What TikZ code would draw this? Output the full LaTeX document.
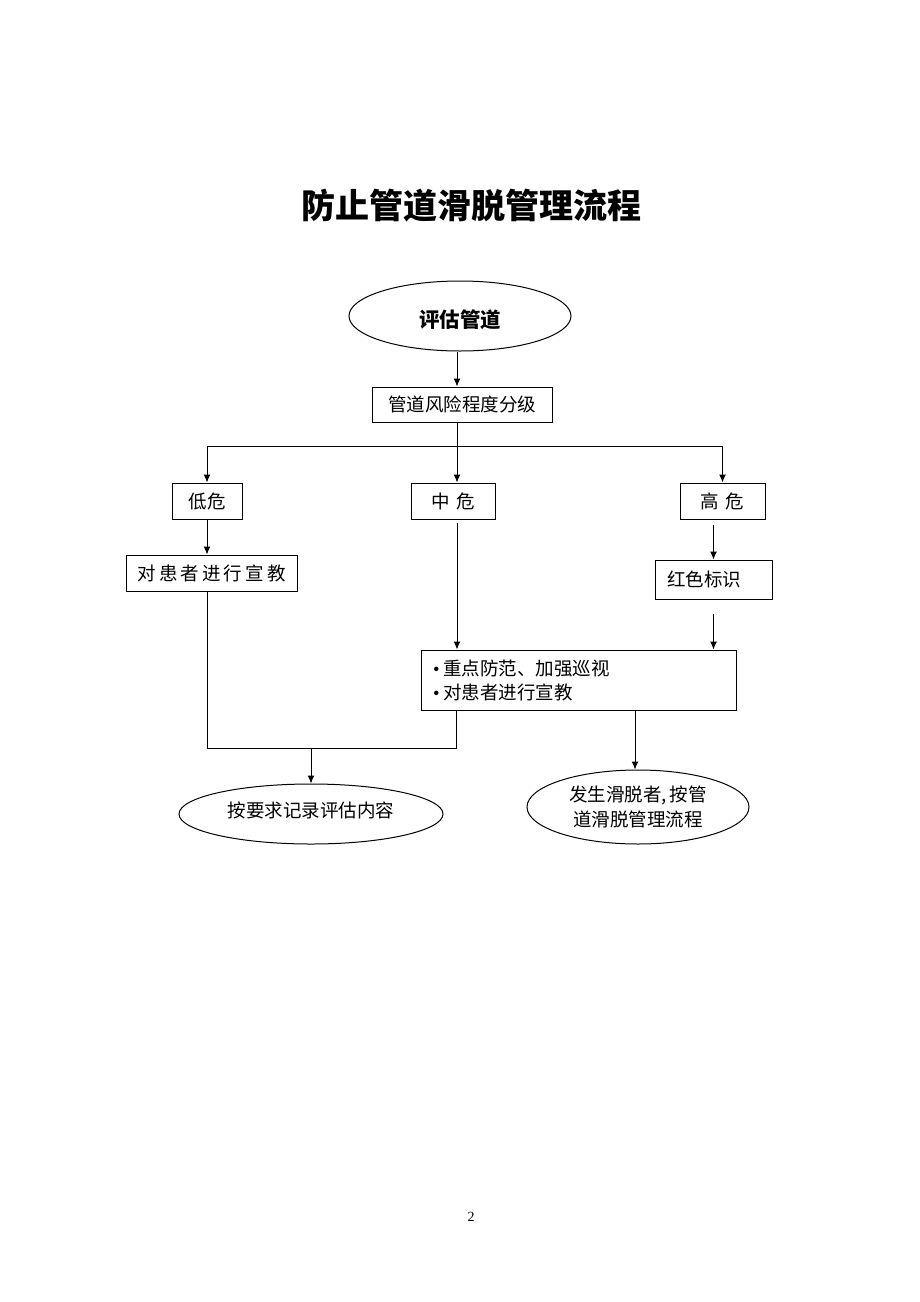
\documentclass[tikz,border=0pt]{standalone}
\usepackage{fontspec}
\setmainfont{Liberation Serif}
\newfontfamily\cjk{Noto Sans CJK SC}
\newcommand{\bul}{{\rmfamily\textbullet}\hspace{4pt}}
\usetikzlibrary{shapes.geometric , arrows.meta}

\begin{document}
\begin{tikzpicture}[x = 1pt , y = -1pt , line width = 1pt ,
    font = \cjk\fontsize{18.5}{24}\selectfont ,
    box/.style = {draw , rectangle , inner sep = 0pt , minimum height = 36pt} ,
    oval/.style = {draw , ellipse , inner sep = 0pt} ,
    arrow/.style = {-{Latex[length = 8pt , width = 7pt]}}]
    \useasboundingbox (0,0) rectangle (920,1302);
    \node[font = \cjk\bfseries\fontsize{34}{40}\selectfont] (title) at (471,206) {防止管道滑脱管理流程};
    \node[oval , minimum width = 222pt , minimum height = 70pt] (assess) at (460,316) {};
    \node[font = \cjk\bfseries\fontsize{20.5}{24}\selectfont] (assesstext) at (460,320) {评估管道};
    \node[box , minimum width = 180pt , minimum height = 35pt] (grade) at (462,404.5) {管道风险程度分级};
    \node[box , minimum width = 70pt] (low) at (207,501) {低危}; % 低危
    \node[box , minimum width = 84pt] (mid) at (453,501) {中\hspace{7pt}危}; % 中危
    \node[box , minimum width = 85pt] (high) at (722.5,501) {高\hspace{7pt}危}; % 高危
    \node[box , minimum width = 171pt] (edu) at (211.5,573) {对\,患\,者\,进\,行\,宣\,教};
    \node[box , minimum width = 117pt , minimum height = 39pt , text width = 93pt , align = left] (red) at (713.5,579.5) {红色标识};
    \node[box , minimum width = 315pt , minimum height = 60pt , text width = 291pt , align = left] (care) at (578.5,680) {\bul 重点防范、加强巡视\\\bul 对患者进行宣教};
    \node[oval , minimum width = 264pt , minimum height = 60pt] (record) at (311,814) {};
    \node (recordtext) at (311,810) {按要求记录评估内容};
    \node[oval , minimum width = 222pt , minimum height = 74pt , align = center , font = \cjk\fontsize{18.5}{25}\selectfont] (slip) at (638,807) {发生滑脱者,\,按管\\道滑脱管理流程};
    \node[font = \fontsize{14}{16}\selectfont] (page) at (471,1217) {2};
    % Βέλη
    \draw[arrow] (assess.south -| 457,0) -- (grade.north -| 457,0);
    \draw (grade.south -| 457,0) -- ++(0,24) coordinate (fork);
    \draw[arrow] (fork) -| (low.north);
    \draw[arrow] (fork) -| (high.north);
    \draw[arrow] (fork) -- (fork |- mid.north);
    \draw[arrow] (low.south) -- (low.south |- edu.north);
    \draw[arrow] ([yshift = -5pt]high.south -| red.north) -- (red.north);
    \draw[arrow] ([yshift = -3pt]mid.south -| fork) -- (fork |- care.north);
    \draw[arrow] ([yshift = -14pt]red.south) -- (red.south |- care.north);
    \draw (low.south |- edu.south) -- ++(0,157) coordinate (join) -- (join -| 456,0) -- (456,0 |- care.south);
    \draw[arrow] (record.north |- join) -- (record.north);
    \draw[arrow] (635,0 |- care.south) -- (635,0 |- slip.north);
\end{tikzpicture}
\end{document}
